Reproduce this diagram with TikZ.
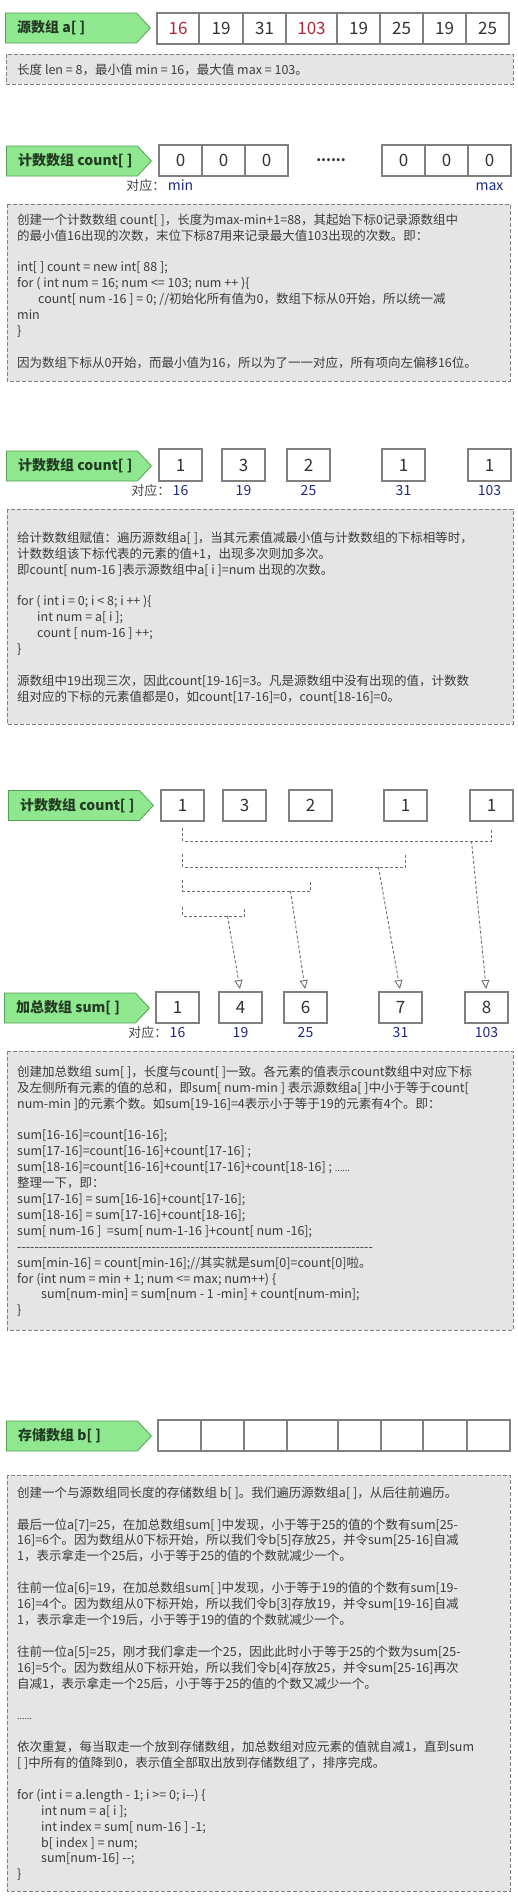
\documentclass[tikz,border=0pt]{standalone}
\usepackage{fontspec}
\setmainfont{Noto Sans CJK SC}[Ligatures=TeXOff]
\usepackage{tikz}
\usetikzlibrary{shapes.symbols}
\usetikzlibrary{positioning}
\usetikzlibrary{arrows.meta}
\definecolor{tagfill}{RGB}{143,232,143}
\definecolor{tagline}{RGB}{85,160,85}
\definecolor{tagtext}{RGB}{35,60,35}
\definecolor{cellline}{RGB}{128,128,128}
\definecolor{numtext}{RGB}{50,50,50}
\definecolor{numred}{RGB}{175,40,60}
\definecolor{idxblue}{RGB}{30,40,130}
\definecolor{corrgray}{RGB}{70,70,70}
\definecolor{notefill}{RGB}{229,229,229}
\definecolor{noteline}{RGB}{128,128,128}
\definecolor{notetext}{RGB}{60,60,60}
\definecolor{linkgray}{RGB}{110,110,110}
\tikzset{
  tag/.style={signal, signal to=east, signal pointer angle=94, draw=tagline, fill=tagfill,
    line width=0.8pt, minimum width=145pt, minimum height=30pt, inner sep=0pt, anchor=west},
  tagtext/.style={inner sep=0pt, text=tagtext, font=\fontsize{14}{14}\selectfont\bfseries},
  cell/.style={draw=cellline, fill=white, line width=1.2pt, minimum width=43pt, minimum height=31pt,
    inner sep=0pt, outer sep=0pt, text=numtext, font=\fontsize{17}{17}\selectfont},
  note/.style={draw=noteline, fill=notefill, line width=1pt, dash pattern=on 4pt off 2pt},
  notetext/.style={anchor=north west, inner sep=0pt, align=left, text=notetext,
    font=\fontsize{12.5}{15.9}\selectfont},
  idx/.style={inner sep=1pt, text height=10pt, text depth=0pt, text=idxblue, font=\fontsize{14}{14}\selectfont},
  corr/.style={inner sep=1pt, text=corrgray, font=\fontsize{13}{13}\selectfont},
  link/.style={draw=linkgray, line width=0.9pt, dash pattern=on 3pt off 2pt},
}
\begin{document}
\begin{tikzpicture}[x=1pt,y=-1pt]
	\useasboundingbox (0,0) rectangle (517,1899);
	%% source array a[]
	\node[tag] (tagA) at (5,28) {};
	\node[tagtext, right=12pt of tagA.west] (tagAt) {源数组 a[ ]};
	\node[cell, anchor=west, minimum width=42pt, text=numred] (a1) at (157,28.5) {16};
	\node[cell, right=0pt of a1, minimum width=44pt] (a2) {19};
	\node[cell, right=0pt of a2] (a3) {31};
	\node[cell, right=0pt of a3, minimum width=51pt, text=numred] (a4) {103};
	\node[cell, right=0pt of a4] (a5) {19};
	\node[cell, right=0pt of a5] (a6) {25};
	\node[cell, right=0pt of a6] (a7) {19};
	\node[cell, right=0pt of a7] (a8) {25};
	\draw[note] (6,54) rectangle (513,84);
	\node[notetext] (noteA) at (17,63.5) {长度 len = 8，最小值 min = 16，最大值 max = 103。};
	%% count array, all zero
	\node[tag] (tagC) at (6,161) {};
	\node[tagtext, right=12pt of tagC.west] (tagCt) {计数数组 count[ ]};
	\node[cell, anchor=west] (c1) at (159,160.5) {0};
	\node[cell, right=0pt of c1] (c2) {0};
	\node[cell, right=0pt of c2] (c3) {0};
	\node[font=\fontsize{14}{14}\selectfont\bfseries, text=numtext] (dots) at (331,160) {......};
	\node[cell, anchor=west] (c4) at (382,160.5) {0};
	\node[cell, right=0pt of c4] (c5) {0};
	\node[cell, right=0pt of c5] (c6) {0};
	\node[idx, below=3pt of c1] (vmin) {min};
	\node[corr, base left=0pt of vmin] (corrC) {对应：};
	\node[idx, below=3pt of c6] (vmax) {max};
	\draw[note] (7,204) rectangle (510,381);
	\node[notetext] (noteC) at (17,213.5) {创建一个计数数组 count[ ]，长度为max-min+1=88，其起始下标0记录源数组中\\
		的最小值16出现的次数，末位下标87用来记录最大值103出现的次数。即：\\[15.9pt]
		int[ ] count = new int[ 88 ];\\
		for ( int num = 16; num <= 103; num ++ )\{\\
		\hspace*{21pt}count[ num -16 ] = 0; //初始化所有值为0，数组下标从0开始，所以统一减\\
		min\\
		\}\\[15.9pt]
		因为数组下标从0开始，而最小值为16，所以为了一一对应，所有项向左偏移16位。};
	%% count array, filled
	\node[tag] (tagK) at (6,466) {};
	\node[tagtext, right=12pt of tagK.west] (tagKt) {计数数组 count[ ]};
	\node[cell, minimum height=32pt] (k1) at (180.5,465) {1};
	\node[cell, minimum height=32pt] (k2) at (243.5,465) {3};
	\node[cell, minimum height=32pt] (k3) at (308.5,465) {2};
	\node[cell, minimum height=32pt] (k4) at (403.5,465) {1};
	\node[cell, minimum height=32pt] (k5) at (489.5,465) {1};
	\node[idx, below=3pt of k1] (vk1) {16};
	\node[corr, base left=0pt of vk1] (corrK) {对应：};
	\node[idx, below=3pt of k2] (vk2) {19};
	\node[idx, below=3pt of k3] (vk3) {25};
	\node[idx, below=3pt of k4] (vk4) {31};
	\node[idx, below=3pt of k5] (vk5) {103};
	\draw[note] (7,509) rectangle (513,724);
	\node[notetext] (noteK) at (17,531.5) {给计数数组赋值：遍历源数组a[ ]，当其元素值减最小值与计数数组的下标相等时，\\
		计数数组该下标代表的元素的值+1，出现多次则加多次。\\
		即count[ num-16 ]表示源数组中a[ i ]=num 出现的次数。\\[15.9pt]
		for ( int i = 0; i < 8; i ++ )\{\\
		\hspace*{20pt}int num = a[ i ];\\
		\hspace*{20pt}count [ num-16 ] ++;\\
		\}\\[15.9pt]
		源数组中19出现三次，因此count[19-16]=3。凡是源数组中没有出现的值，计数数\\
		组对应的下标的元素值都是0，如count[17-16]=0，count[18-16]=0。};
	%% count array -> sum array
	\node[tag] (tagM) at (8,805.5) {};
	\node[tagtext, right=12pt of tagM.west] (tagMt) {计数数组 count[ ]};
	\node[cell] (m1) at (182.5,805.5) {1};
	\node[cell] (m2) at (244.5,805.5) {3};
	\node[cell] (m3) at (310.5,805.5) {2};
	\node[cell] (m4) at (405.5,805.5) {1};
	\node[cell] (m5) at (491.5,805.5) {1};
	\node[tag] (tagS) at (4,1008) {};
	\node[tagtext, right=12pt of tagS.west] (tagSt) {加总数组 sum[ ]};
	\node[cell] (s1) at (177.5,1007.5) {1};
	\node[cell] (s2) at (240.5,1007.5) {4};
	\node[cell] (s3) at (305.5,1007.5) {6};
	\node[cell] (s4) at (400.5,1007.5) {7};
	\node[cell] (s5) at (486.5,1007.5) {8};
	\node[idx, below=3pt of s1] (vs1) {16};
	\node[corr, base left=0pt of vs1] (corrS) {对应：};
	\node[idx, below=3pt of s2] (vs2) {19};
	\node[idx, below=3pt of s3] (vs3) {25};
	\node[idx, below=3pt of s4] (vs4) {31};
	\node[idx, below=3pt of s5] (vs5) {103};
	%% running sums
	\draw[link] ([yshift=-7pt]m1.south) |- ([yshift=-20pt]m5.south) -- ([yshift=-7pt]m5.south);
	\draw[link] ([yshift=-33pt]m1.south) |- ([yshift=-46pt]m4.south) -- ([yshift=-33pt]m4.south);
	\draw[link] ([yshift=-59pt]m1.south) |- ([yshift=-70pt]m3.south) -- ([yshift=-59pt]m3.south);
	\draw[link] ([yshift=-86pt]m1.south) |- ([yshift=-95pt]m2.south) -- ([yshift=-86pt]m2.south);
	\coordinate (j5) at ([xshift=-20pt,yshift=-20pt]m5.south);
	\coordinate (j4) at ([xshift=-27pt,yshift=-46pt]m4.south);
	\coordinate (j3) at ([xshift=-20pt,yshift=-70pt]m3.south);
	\coordinate (j2) at ([xshift=-17pt,yshift=-95pt]m2.south);
	\draw[link, -{Triangle[open, length=9pt, width=8pt]}, shorten >=3pt] (j5) -- (s5.north);
	\draw[link, -{Triangle[open, length=9pt, width=8pt]}, shorten >=3pt] (j4) -- (s4.north);
	\draw[link, -{Triangle[open, length=9pt, width=8pt]}, shorten >=3pt] (j3) -- (s3.north);
	\draw[link, -{Triangle[open, length=9pt, width=8pt]}, shorten >=3pt] (j2) -- (s2.north);
	\draw[note] (7,1051) rectangle (513,1330);
	\node[notetext] (noteS) at (17,1065.5) {创建加总数组 sum[ ]，长度与count[ ]一致。各元素的值表示count数组中对应下标\\
		及左侧所有元素的值的总和，即sum[ num-min ] 表示源数组a[ ]中小于等于count[\\
		num-min ]的元素个数。如sum[19-16]=4表示小于等于19的元素有4个。即：\\[15.9pt]
		sum[16-16]=count[16-16];\\
		sum[17-16]=count[16-16]+count[17-16] ;\\
		sum[18-16]=count[16-16]+count[17-16]+count[18-16] ; {\fontsize{9}{9}\selectfont ......}\\
		整理一下，即：\\
		sum[17-16] = sum[16-16]+count[17-16];\\
		sum[18-16] = sum[17-16]+count[18-16];\\
		sum[ num-16 ] \ =sum[ num-1-16 ]+count[ num -16];\\
		----------------------------------------------------------------------------------\\
		sum[min-16] = count[min-16];//其实就是sum[0]=count[0]啦。\\
		for (int num = min + 1; num <= max; num++) \{\\
		\hspace*{24pt}sum[num-min] = sum[num - 1 -min] + count[num-min];\\
		\}};
	%% storage array b[]
	\node[tag] (tagB) at (6,1436) {};
	\node[tagtext, right=12pt of tagB.west] (tagBt) {存储数组 b[ ]};
	\node[cell, anchor=west] (b1) at (158,1435.5) {};
	\node[cell, right=0pt of b1] (b2) {};
	\node[cell, right=0pt of b2] (b3) {};
	\node[cell, right=0pt of b3, minimum width=51pt] (b4) {};
	\node[cell, right=0pt of b4] (b5) {};
	\node[cell, right=0pt of b5, minimum width=42pt] (b6) {};
	\node[cell, right=0pt of b6, minimum width=44pt] (b7) {};
	\node[cell, right=0pt of b7] (b8) {};
	\draw[note] (7,1475) rectangle (510,1891);
	\node[notetext] (noteB) at (17,1486.5) {创建一个与源数组同长度的存储数组 b[ ]。我们遍历源数组a[ ]，从后往前遍历。\\[15.9pt]
		最后一位a[7]=25，在加总数组sum[ ]中发现，小于等于25的值的个数有sum[25-\\
		16]=6个。因为数组从0下标开始，所以我们令b[5]存放25，并令sum[25-16]自减\\
		1，表示拿走一个25后，小于等于25的值的个数就减少一个。\\[15.9pt]
		往前一位a[6]=19，在加总数组sum[ ]中发现，小于等于19的值的个数有sum[19-\\
		16]=4个。因为数组从0下标开始，所以我们令b[3]存放19，并令sum[19-16]自减\\
		1，表示拿走一个19后，小于等于19的值的个数就减少一个。\\[15.9pt]
		往前一位a[5]=25，刚才我们拿走一个25，因此此时小于等于25的个数为sum[25-\\
		16]=5个。因为数组从0下标开始，所以我们令b[4]存放25，并令sum[25-16]再次\\
		自减1，表示拿走一个25后，小于等于25的值的个数又减少一个。\\[15.9pt]
		{\fontsize{9}{9}\selectfont ......}\\[15.9pt]
		依次重复，每当取走一个放到存储数组，加总数组对应元素的值就自减1，直到sum\\
		{[ ]}中所有的值降到0，表示值全部取出放到存储数组了，排序完成。\\[15.9pt]
		for (int i = a.length - 1; i >= 0; i--) \{\\
		\hspace*{24pt}int num = a[ i ];\\
		\hspace*{24pt}int index = sum[ num-16 ] -1;\\
		\hspace*{24pt}b[ index ] = num;\\
		\hspace*{24pt}sum[num-16] --;\\
		\}};
\end{tikzpicture}
\end{document}
